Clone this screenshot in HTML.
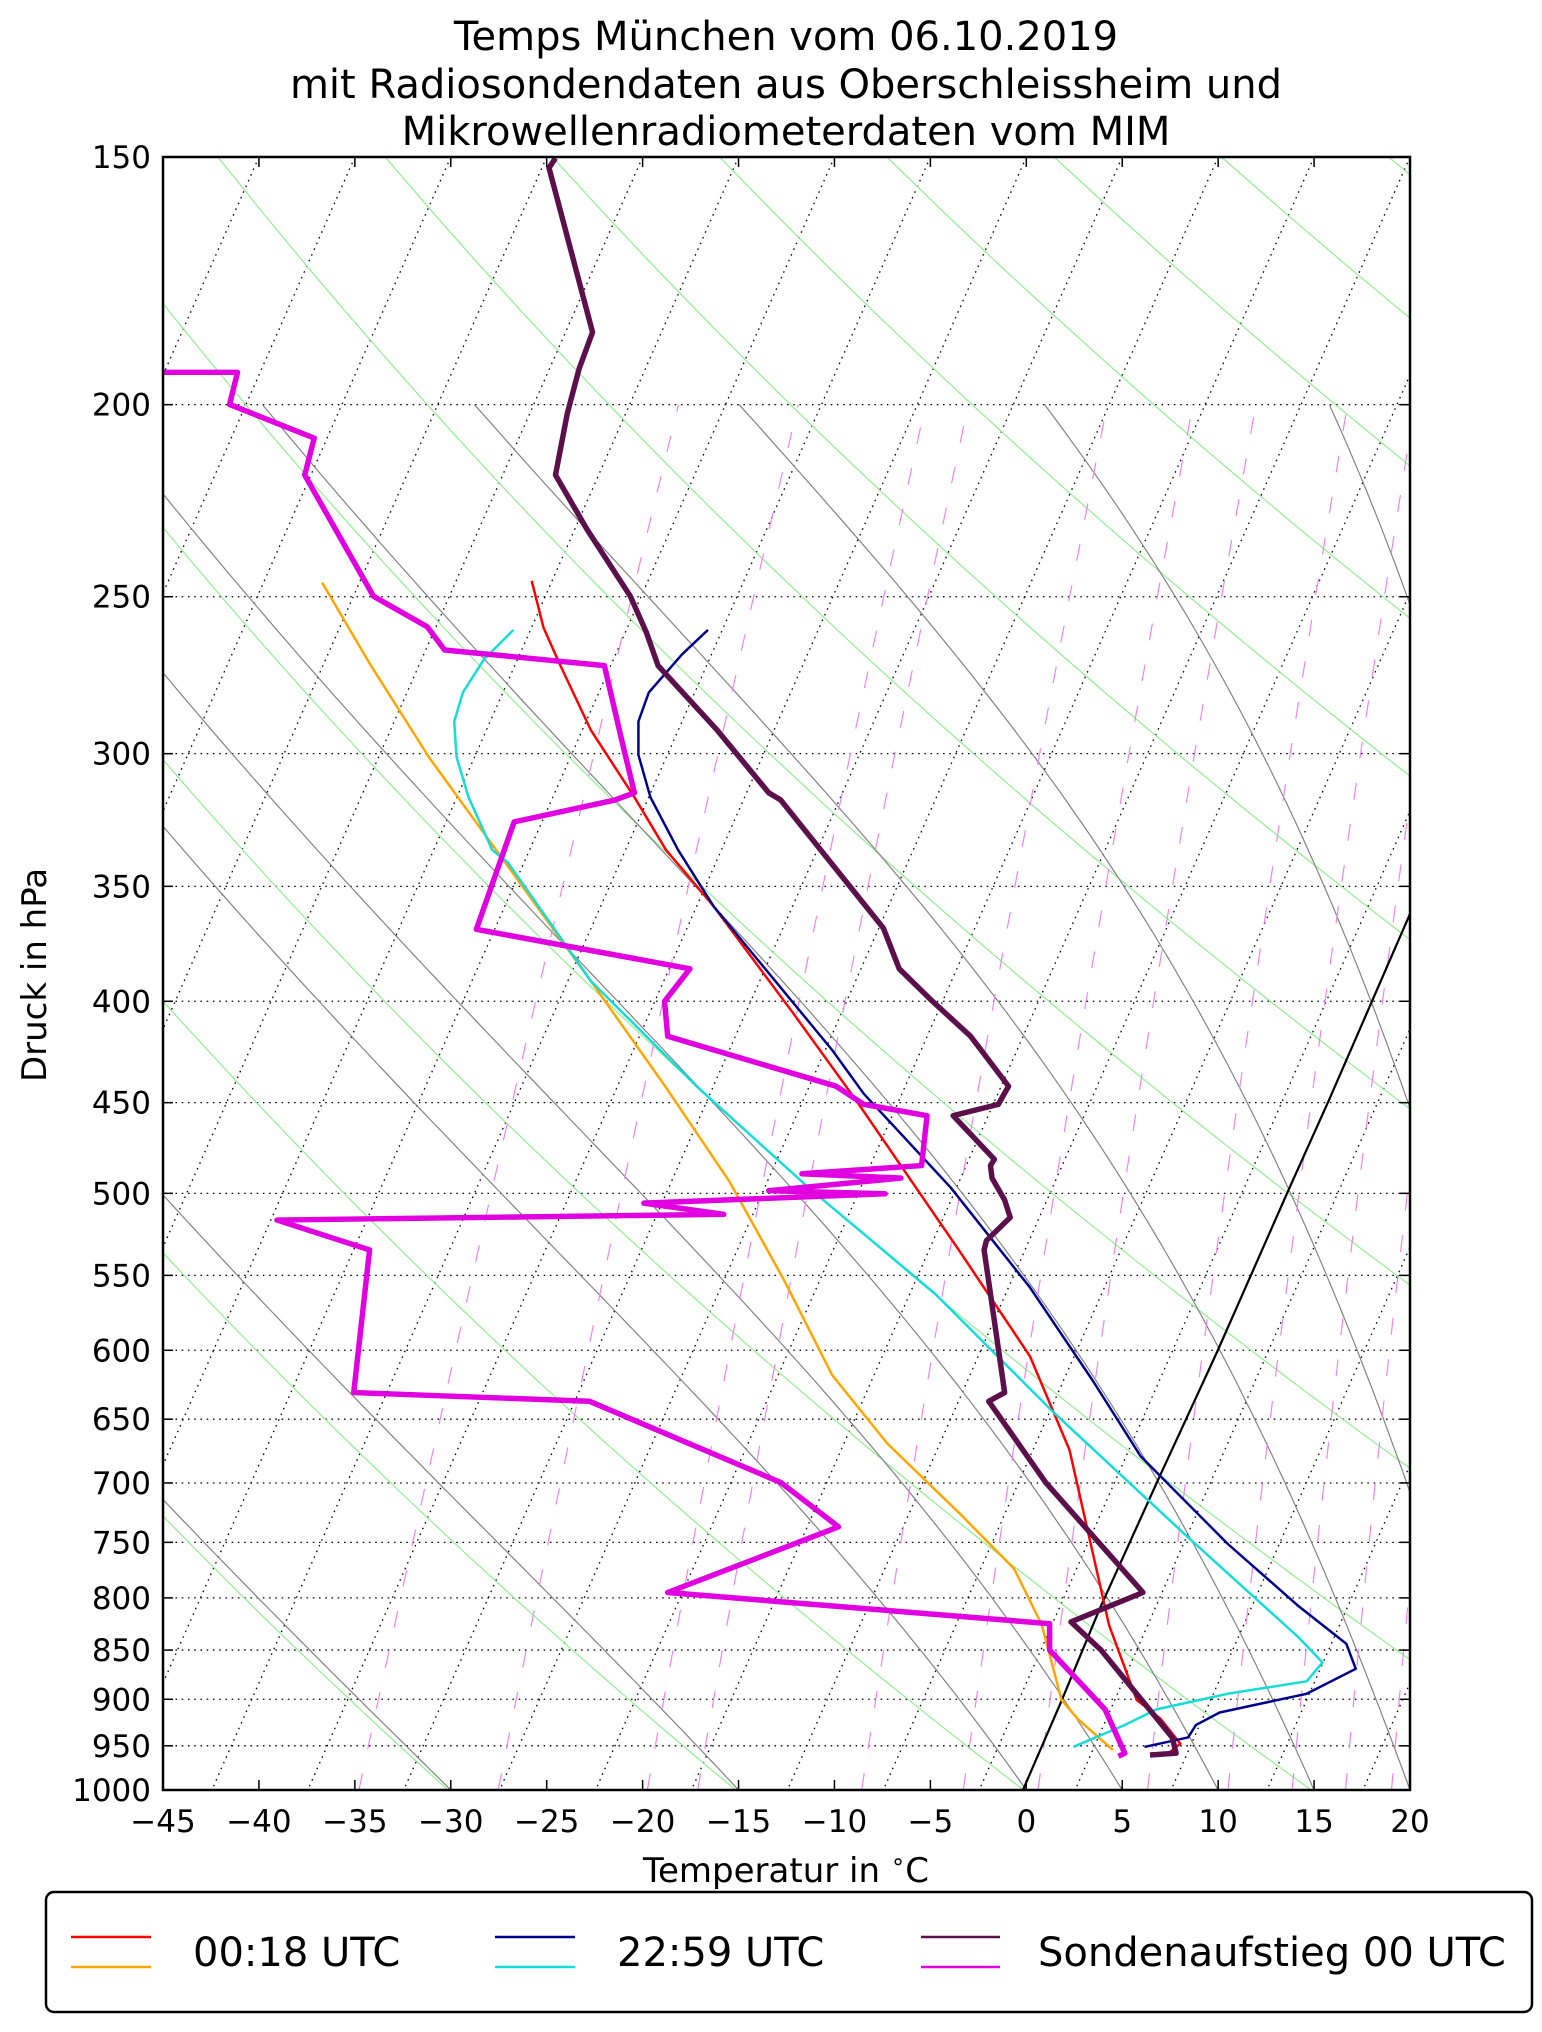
<!DOCTYPE html>
<html><head><meta charset="utf-8">
<style>
html,body{margin:0;padding:0;background:#fff;}
svg{display:block;font-family:"DejaVu Sans","Liberation Sans",sans-serif;}
</style></head>
<body>
<svg id="s" xmlns="http://www.w3.org/2000/svg" width="1542" height="2032" viewBox="0 0 1542 2032">
<rect width="1542" height="2032" fill="#fff"/>
<defs><clipPath id="cp"><rect x="125.4" y="120.8" width="959.2" height="1256.1"/></clipPath></defs>
<g font-size="40" text-anchor="middle" fill="#000">
<text x="786" y="50">Temps München vom 06.10.2019</text>
<text x="786" y="98">mit Radiosondendaten aus Oberschleissheim und</text>
<text x="786" y="145">Mikrowellenradiometerdaten vom MIM</text>
</g>
<g transform="scale(1.3)">
<g id="bg" clip-path="url(#cp)"></g>
<g clip-path="url(#cp)" fill="none" stroke-linejoin="round">
<polyline stroke="#000" stroke-width="1.7" points="786.9,1376.9 816.2,1309.2 846.2,1236.9 891.5,1136.9 936.2,1040 990.8,916.2 1022.3,846.2 1084.6,703"/>
<polyline stroke="#ffa500" stroke-width="1.9" points="247.8,448.2 284.3,510.3 329.9,582.4 381.6,653.8 454.6,754.8 512.3,836.5 561,908.7 603.6,985.6 640.1,1057.7 682.7,1110.6 737.5,1163.5 780.1,1206.7 801.4,1250 816.6,1307.7 828.8,1322.1 856.1,1346.2"/>
<polyline stroke="#ff0000" stroke-width="1.9" points="409,446.8 418.1,482.8 430.3,510.3 454.6,561.8 488,613.2 512.3,653.8 548.9,697.1 609.7,778.8 658.4,846.2 737.5,961.5 792.3,1043.3 822.7,1115.4 837.9,1182.7 853.1,1250 874.4,1307.7 892.7,1322.1 907.9,1341.3 898.8,1348.6"/>
<polyline stroke="#14dcd6" stroke-width="1.9" points="395,484.5 372.5,506.9 356.1,532.6 349.4,555 351.2,582.4 360.4,613.2 378.6,653.8 390.7,663.5 454.6,754.8 536.8,836.5 621.9,913.5 719.3,995.2 810.5,1086.5 914,1182.7 999,1259.6 1017.3,1278.8 1005.1,1293.3 944.3,1302.9 889.5,1314.9 865.2,1326.9 825.6,1343.8"/>
<polyline stroke="#00008b" stroke-width="1.9" points="544.6,484.5 524.6,503.4 499.1,532.6 491.1,555 491.1,580.7 500.3,613.2 521.6,653.8 548.9,697.1 640.1,807.7 664.4,841.3 731.3,913.5 792.3,990.4 840.9,1062.5 877.4,1120.2 944.3,1187.5 999,1235.6 1035.6,1264.4 1042.9,1283.7 1005.1,1302.9 938.2,1317.3 920,1326.9 913.9,1336.5 880.4,1343.8"/>
<polyline stroke="#e000e0" stroke-width="4.2" points="123.1,286.4 182.7,286.4 176.6,311.1 241.7,337 234.4,365.4 287.3,458.7 328.6,482.1 342,500 464.9,512 478.9,572.1 488,609.9 472.9,615.4 395.5,632.2 366.4,714.9 530.7,745.2 511.2,770.2 513.6,797.1 643.2,835.6 664.4,849.5 713.1,858.2 708.9,896.6 616.9,902.9 693,906.2 591.4,915.9 680.8,918.3 495.3,925.5 556.7,934.1 213.1,938.5 284.3,961.5 272.1,1071.2 453.4,1077.9 600.6,1140.4 645,1174.5 513.6,1225 807.4,1249 807.4,1269.2 850,1314.9 865.2,1348.6 860.3,1351"/>
<polyline stroke="#5b0f4b" stroke-width="4.2" points="427.3,121.6 422.3,129.1 455.8,255.5 445.5,283.6 436.4,318 427.3,365.4 451.6,407.3 484.9,458.7 497.1,486.2 506.2,512 551.8,561.8 591.4,609.9 600.6,615.4 615.9,634.6 679.5,713.9 691.7,745.2 716.2,769.2 746.6,797.1 775.8,835.6 767.9,849.5 733.2,858.2 764.9,891.8 761.9,896.6 763.1,906.2 772.8,923.1 777.1,936.5 758.8,954.3 757,961.5 761.9,995.2 772.8,1071.2 760.6,1077.9 804.4,1140.4 879.2,1225 823.8,1247.6 846.9,1269.2 901.7,1336.5 904.7,1348.6 884.6,1350"/>
</g>
</g>
<rect x="163" y="157" width="1247" height="1633" fill="none" stroke="#000" stroke-width="2.5"/>
<g id="ticks"></g>
<text x="786" y="1882" font-size="34" text-anchor="middle">Temperatur in <tspan baseline-shift="super" font-size="23">∘</tspan>C</text>
<text transform="translate(46,975) rotate(-90)" font-size="34" text-anchor="middle">Druck in hPa</text>
<rect x="46" y="1892" width="1486" height="120" rx="8" fill="#fff" stroke="#000" stroke-width="2.5"/>
<g stroke-width="2.5">
<line x1="71" y1="1937" x2="151" y2="1937" stroke="#ff0000"/>
<line x1="71" y1="1967" x2="151" y2="1967" stroke="#ffa500"/>
<line x1="495" y1="1937" x2="575" y2="1937" stroke="#00008b"/>
<line x1="495" y1="1967" x2="575" y2="1967" stroke="#14dcd6"/>
<line x1="921" y1="1937" x2="1000" y2="1937" stroke="#5b0f4b"/>
<line x1="921" y1="1967" x2="1000" y2="1967" stroke="#e000e0"/>
</g>
<g font-size="40">
<text x="193" y="1966">00:18 UTC</text>
<text x="617" y="1966">22:59 UTC</text>
<text x="1038" y="1966">Sondenaufstieg 00 UTC</text>
</g>
<script>
(function(){
var NS="http://www.w3.org/2000/svg";
var X0=125.4,X1=1084.6,Y0=120.8,Y1=1376.9,PX=(X1-X0)/65,K=0.44,H=Y1-Y0,LN=Math.log(1000/150);
function yp(p){return Y0+Math.log(p/150)/LN*H;}
function xt(T,y){return X0+(T+45)*PX+(Y1-y)*K;}
var bg=document.getElementById('bg');
function path(d,st,w,da){var e=document.createElementNS(NS,'path');e.setAttribute('d',d);e.setAttribute('fill','none');e.setAttribute('stroke',st);e.setAttribute('stroke-width',w);if(da)e.setAttribute('stroke-dasharray',da);bg.appendChild(e);}
var P=[150,200,250,300,350,400,450,500,550,600,650,700,750,800,850,900,950,1000];
P.forEach(function(p){if(p==150||p==1000)return;var y=yp(p);path('M'+X0+' '+y+'L'+X1+' '+y,'#000',1,'1.2,3.6');});
for(var n=-2;n<40;n++){var xt0=X0+n*PX*5;path('M'+xt0+' '+Y0+'L'+(xt0-H*K)+' '+Y1,'#000',1,'1.2,3.6');}
for(var th=243;th<=700;th+=15){var d='';for(var p=1000;p>=150;p-=10){var T=th*Math.pow(p/1000,0.286)-273.15;var y=yp(p);d+=(d?'L':'M')+xt(T,y).toFixed(1)+' '+y.toFixed(1);}path(d,'#90ee90',0.9);}
function es(T){return 6.112*Math.exp(17.67*T/(T+243.5));}
[-30,-15,0,5,10,15,20,25,30,35].forEach(function(T0){var T=T0+273.15,p=1000,d='';while(p>=200){var y=yp(p);d+=(d?'L':'M')+xt(T-273.15,y).toFixed(1)+' '+y.toFixed(1);var e=es(T-273.15),rs=0.622*e/(p-e),L=2.501e6,R=287.04,cp=1005.7;var g=(R*T+L*rs)/(cp+L*L*rs*0.622/(R*T*T))/p;var dp=-5;T+=g*dp;p+=dp;}path(d,'#808080',0.9);});
[0.2,0.4,0.8,1,2,3,4,6,8,10,12,14,16,18,20,24,28,32,36,40,48,56].forEach(function(w){var d='';for(var p=1000;p>=200;p-=50){var ww=w/1000,e=ww*p/(0.622+ww),l=Math.log(e/6.112),Td=243.5*l/(17.67-l),y=yp(p);d+=(d?'L':'M')+xt(Td,y).toFixed(1)+' '+y.toFixed(1);}path(d,'#ee82ee',0.9,'13,19');});
var tk=document.getElementById('ticks');
function el(tag,attrs,txt){var e=document.createElementNS(NS,tag);for(var a in attrs)e.setAttribute(a,attrs[a]);if(txt!=null)e.textContent=txt;tk.appendChild(e);}
var L0=163,R0=1410,T0y=157,B0=1790;
for(var t=-45;t<=20;t+=5){var x=L0+(t+45)*(R0-L0)/65;el('line',{x1:x,y1:B0,x2:x,y2:B0-10,stroke:'#000','stroke-width':1.5});el('line',{x1:x,y1:T0y,x2:x,y2:T0y+10,stroke:'#000','stroke-width':1.5});el('text',{x:x,y:1832,'font-size':31,'text-anchor':'middle'},(t<0?'\u2212'+(-t):''+t));}
P.forEach(function(p){var y=yp(p)*1.3;el('line',{x1:L0,y1:y,x2:L0+10,y2:y,stroke:'#000','stroke-width':1.5});el('line',{x1:R0,y1:y,x2:R0-10,y2:y,stroke:'#000','stroke-width':1.5});el('text',{x:151,y:y+11,'font-size':31,'text-anchor':'end'},''+p);});
})();
</script>
</svg>
</body></html>
